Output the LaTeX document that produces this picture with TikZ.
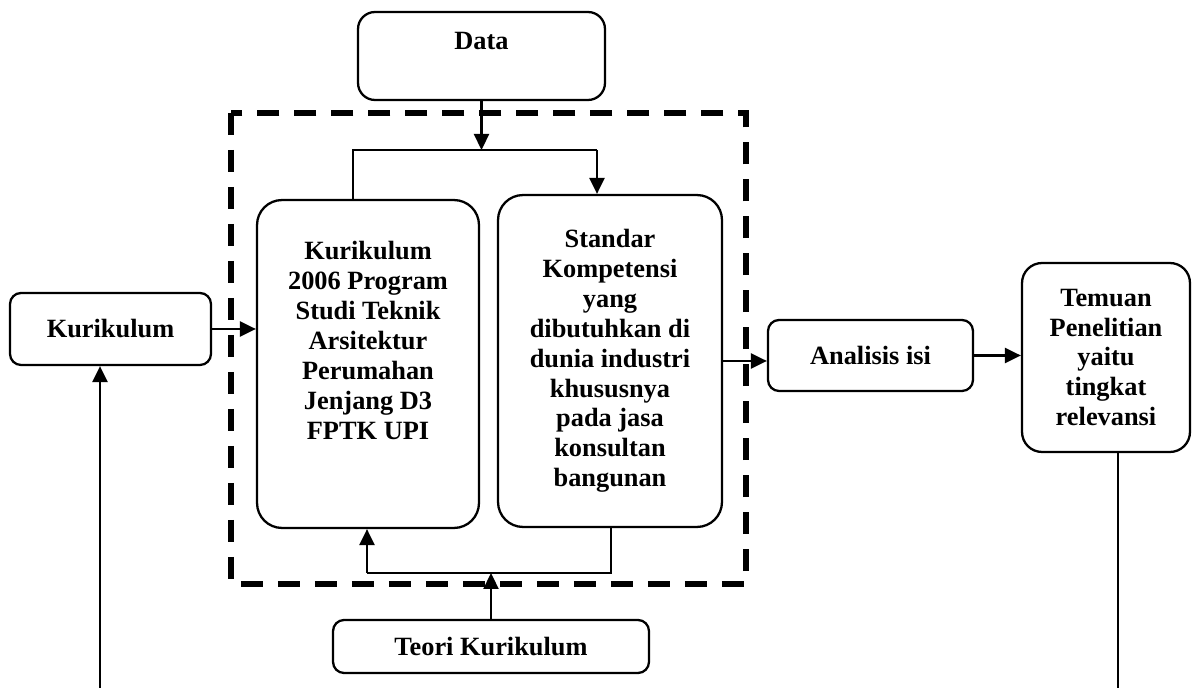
\documentclass[tikz,border=0pt]{standalone}
\usepackage{fontspec}
\setmainfont{Liberation Serif}
\usetikzlibrary{arrows.meta}
\begin{document}
\begin{tikzpicture}[x=0.02cm,y=-0.02cm]
	\tikzstyle{every node}+=[inner sep=0pt, font=\bfseries\fontsize{15}{17}\selectfont, align=center]
	\tikzstyle{box}=[draw=black, line width=1.3pt, rounded corners=0.22cm]
	\tikzstyle{bigbox}=[box, rounded corners=0.5cm]
	\tikzstyle{link}=[black, line width=1.3pt]
	\tikzstyle{flow}=[link, -{Triangle[length=0.32cm,width=0.3cm]}]
	\useasboundingbox (0,0) rectangle (1197,688);
	\draw [black, line width=3pt, dash pattern=on 0.44cm off 0.3cm] (231,113) rectangle (746,584);
	\node [box, rounded corners=0.34cm, minimum width=4.94cm, minimum height=1.76cm] (data) at (481.5,56) {Data\\~};
	\node [bigbox, minimum width=4.44cm, minimum height=6.56cm] (kts) at (368,364) {Kurikulum\\2006 Program\\Studi Teknik\\Arsitektur\\Perumahan\\Jenjang D3\\FPTK UPI\\[10pt]~};
	\node [bigbox, minimum width=4.48cm, minimum height=6.64cm] (skom) at (610,361) {Standar\\Kompetensi\\yang\\dibutuhkan di\\dunia industri\\khususnya\\pada jasa\\konsultan\\bangunan};
	\node [box, minimum width=4.02cm, minimum height=1.44cm] (kur) at (110.5,329) {Kurikulum};
	\node [box, minimum width=4.1cm, minimum height=1.42cm] (analisis) at (870.5,355.5) {Analisis isi};
	\node [box, rounded corners=0.4cm, minimum width=3.36cm, minimum height=3.78cm] (temuan) at (1106,357.5) {Temuan\\Penelitian\\yaitu\\tingkat\\relevansi};
	\node [box, minimum width=6.32cm, minimum height=1.06cm] (teori) at (491,646.5) {Teori Kurikulum};
	\coordinate (ltop) at (353,150);
	\coordinate (rtop) at (597,150);
	\coordinate (lbot) at (367,573);
	\coordinate (rbot) at (611,573);
	\coordinate (lfoot) at (100,688);
	\coordinate (rfoot) at (1118,688);
	\draw [flow] (data.south) -- (data.south |- ltop);
	\draw [link] (ltop |- kts.north) -- (ltop) -- (rtop);
	\draw [flow] (rtop) -- (rtop |- skom.north);
	\draw [link] (rbot |- skom.south) -- (rbot) -- (lbot);
	\draw [flow] (lbot) -- (lbot |- kts.south);
	\draw [flow] (teori.north) -- (teori.north |- lbot);
	\draw [flow] (kur.east) -- (kur.east -| kts.west);
	\draw [flow] (skom.east) -- (skom.east -| analisis.west);
	\draw [flow] (analisis.east) -- (analisis.east -| temuan.west);
	\draw [flow] (lfoot) -- (lfoot |- kur.south);
	\draw [link] (rfoot |- temuan.south) -- (rfoot);
\end{tikzpicture}
\end{document}
